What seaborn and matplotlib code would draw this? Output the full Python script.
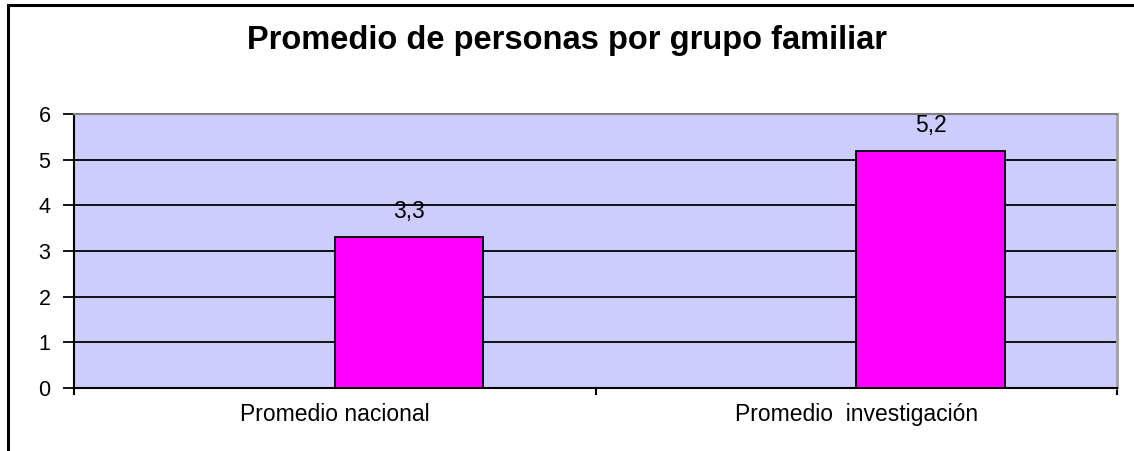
import pandas as pd
import numpy as np
import matplotlib.pyplot as plt
import seaborn as sns
from matplotlib.patches import Rectangle

# Datos del grafico
categorias = ["Promedio nacional", "Promedio  investigación"]
promedios = [3.3, 5.2]
etiquetas_valor = ["3,3", "5,2"]
series = ["vacia", "promedio"]

sns.set_style("white")
plt.rcParams['font.family'] = ['Liberation Sans', 'DejaVu Sans']
plt.rcParams['text.color'] = 'black'
plt.rcParams['xtick.color'] = 'black'
plt.rcParams['ytick.color'] = 'black'

# Excel-like grouped bar: first series is empty, so bars sit right of centre
df = pd.DataFrame({
    'Categoria': categorias * 2,
    'Serie': [series[0]] * 2 + [series[1]] * 2,
    'Valor': [np.nan] * 2 + promedios,
})

fig = plt.figure(figsize=(11.34, 4.51), dpi=100)
ax = fig.add_axes([74 / 1134, 63 / 451, 1043 / 1134, 274 / 451])
ax.set_facecolor('#CCCCFF')

sns.barplot(data=df, x='Categoria', y='Valor', hue='Serie', hue_order=series,
            order=categorias, palette=['#FF00FF', '#FF00FF'], saturation=1,
            width=0.57, edgecolor='black', linewidth=1.3, legend=False,
            ax=ax, zorder=3)

ax.bar_label(ax.containers[1], labels=etiquetas_valor, padding=10,
             fontsize=16.5, color='black')

# Grid and axes
ax.set_ylim(0, 6)
ax.set_xlim(-0.5, 1.5)
ax.set_yticks(range(0, 7))
ax.yaxis.grid(True, color='black', linewidth=1.3, zorder=0)
ax.set_axisbelow(True)
ax.tick_params(axis='y', direction='out', length=8, width=1.3, pad=9,
               labelsize=15.5, left=True, labelcolor='black')
ax.set_xticks([-0.5, 0.5, 1.5])
ax.set_xticklabels([])
ax.set_xticks([0, 1], minor=True)
ax.set_xticklabels(categorias, minor=True, fontsize=16.5, color='black')
ax.tick_params(axis='x', which='major', direction='out', length=5, width=1.5,
               bottom=True)
ax.tick_params(axis='x', which='minor', length=0, pad=11)
ax.set_xlabel('')
ax.set_ylabel('')

for lado in ['left', 'bottom']:
    ax.spines[lado].set_color('black')
    ax.spines[lado].set_linewidth(1.5)
ax.spines['top'].set_color('#808080')
ax.spines['top'].set_linewidth(1.5)
ax.spines['right'].set_color('#A0A0A0')
ax.spines['right'].set_linewidth(2)

fig.text(0.5, 1 - 41 / 451, 'Promedio de personas por grupo familiar',
         ha='center', va='center', fontsize=23.5, fontweight='bold',
         color='black')

# Outer chart frame (right and bottom fall outside the picture)
fig.patches.append(Rectangle((8 / 1134, -0.05), 1.1, 1 - 5 / 451 + 0.05,
                             transform=fig.transFigure, fill=False,
                             edgecolor='black', linewidth=2.2))

fig.savefig('out.png', dpi=100)
